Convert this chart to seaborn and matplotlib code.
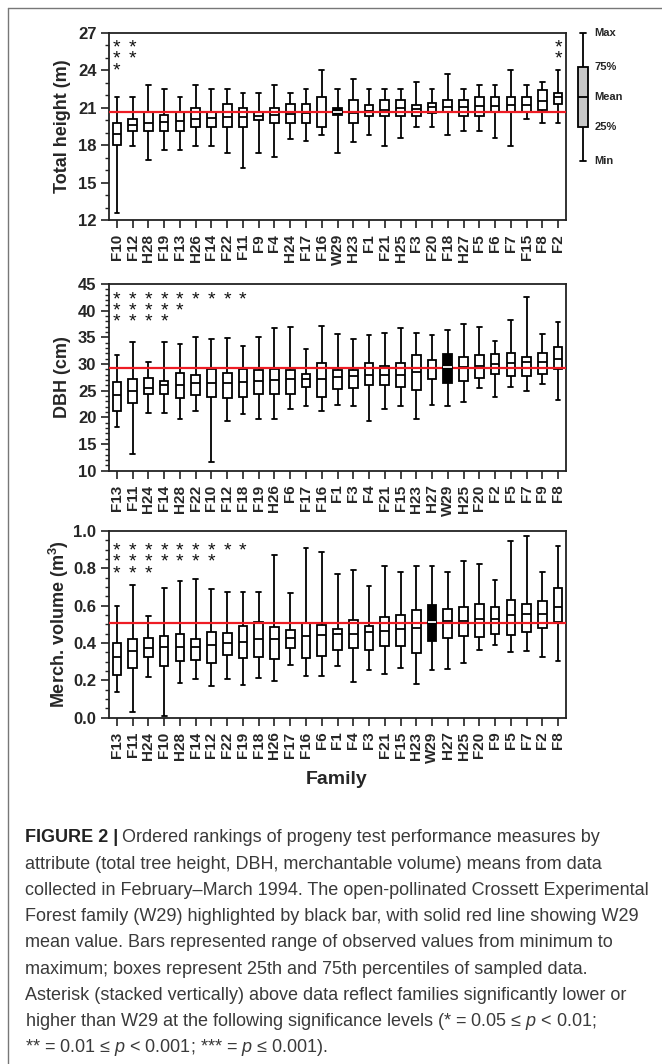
import numpy as np
import pandas as pd
import matplotlib
matplotlib.use("Agg")
import matplotlib.pyplot as plt
import matplotlib.transforms as mtrans
from matplotlib.lines import Line2D
import seaborn as sns

# ---------------- data ----------------
height_fam = ["F10", "F12", "H28", "F19", "F13", "H26", "F14", "F22", "F11", "F9",
              "F4", "H24", "F17", "F16", "W29", "H23", "F1", "F21", "H25", "F3",
              "F20", "F18", "H27", "F5", "F6", "F7", "F15", "F8", "F2"]
height_max = [21.9, 21.9, 22.8, 22.5, 21.9, 22.8, 22.5, 22.5, 22.2, 22.2, 22.8, 22.2, 22.5, 24.0, 22.5,
              23.3, 22.5, 22.5, 22.5, 23.1, 22.5, 23.7, 22.5, 22.8, 22.8, 24.0, 22.8, 23.1, 24.0]
height_q3 = [19.8, 20.1, 20.7, 20.4, 20.7, 21.0, 20.7, 21.3, 21.0, 20.7, 21.0, 21.3, 21.3, 21.9, 20.95,
             21.6, 21.25, 21.6, 21.6, 21.25, 21.4, 21.6, 21.6, 21.85, 21.85, 21.85, 21.85, 22.45, 22.15]
height_med = [18.9, 19.6, 19.8, 19.85, 19.95, 20.1, 20.2, 20.3, 20.3, 20.35, 20.4, 20.5, 20.55, 20.65, 20.65,
              20.6, 20.75, 20.8, 20.95, 20.9, 21.05, 21.1, 21.1, 21.15, 21.15, 21.2, 21.25, 21.55, 21.85]
height_q1 = [18.0, 19.15, 19.15, 19.15, 19.15, 19.45, 19.45, 19.45, 19.45, 20.05, 19.75, 19.75, 19.75, 19.45, 20.4,
             19.75, 20.35, 20.35, 20.35, 20.35, 20.55, 20.7, 20.35, 20.35, 20.7, 20.7, 20.7, 20.8, 21.3]
height_min = [12.55, 17.95, 16.8, 17.65, 17.65, 17.95, 17.95, 17.35, 16.15, 17.35, 17.05, 18.5, 18.3, 18.8, 17.35,
              18.25, 18.85, 17.95, 18.6, 19.5, 19.5, 18.85, 19.15, 19.15, 18.6, 17.95, 20.1, 19.75, 19.75]
height_sig = [3, 2, 0, 0, 0, 0, 0, 0, 0, 0, 0, 0, 0, 0, 0,
              0, 0, 0, 0, 0, 0, 0, 0, 0, 0, 0, 0, 0, 2]

dbh_fam = ["F13", "F11", "H24", "F14", "H28", "F22", "F10", "F12", "F18", "F19",
           "H26", "F6", "F17", "F16", "F1", "F3", "F4", "F21", "F15", "H23",
           "H27", "W29", "H25", "F20", "F2", "F5", "F7", "F9", "F8"]
dbh_max = [31.6, 34.2, 30.4, 34.2, 33.7, 35.1, 34.7, 34.9, 33.4, 35.1, 36.7, 37.0, 32.9, 37.2, 35.7,
           34.7, 35.5, 35.9, 36.7, 35.9, 35.5, 36.4, 37.5, 36.9, 34.4, 38.2, 42.6, 35.7, 37.9]
dbh_q3 = [26.6, 27.1, 27.3, 26.8, 28.4, 27.9, 29.1, 28.4, 29.1, 28.9, 29.1, 28.9, 28.1, 30.1, 28.9,
          28.9, 30.1, 29.6, 30.1, 31.6, 30.8, 31.9, 31.4, 31.6, 31.9, 32.1, 31.3, 32.1, 33.1]
dbh_med = [24.1, 24.9, 25.5, 26.1, 26.1, 26.4, 26.5, 26.5, 26.6, 26.9, 27.0, 27.1, 27.2, 27.2, 27.6,
           27.7, 27.9, 27.9, 28.0, 28.5, 29.2, 29.5, 29.4, 29.6, 30.0, 30.2, 30.3, 30.4, 31.0]
dbh_q1 = [21.2, 22.7, 24.4, 24.4, 23.7, 24.2, 23.9, 23.7, 23.8, 24.4, 24.4, 24.4, 25.7, 23.9, 25.3,
          25.5, 26.0, 26.0, 25.7, 25.2, 27.1, 26.4, 26.8, 27.4, 28.2, 27.7, 27.7, 28.2, 29.0]
dbh_min = [18.1, 13.1, 20.9, 20.9, 19.6, 21.2, 11.7, 19.4, 20.6, 19.6, 19.6, 21.5, 22.2, 21.2, 22.4,
           22.2, 19.4, 21.5, 22.2, 19.6, 22.4, 22.2, 22.9, 25.5, 23.9, 25.7, 25.0, 26.2, 23.2]
dbh_sig = [3, 3, 3, 3, 2, 1, 1, 1, 1, 0, 0, 0, 0, 0, 0,
           0, 0, 0, 0, 0, 0, 0, 0, 0, 0, 0, 0, 0, 0]

vol_fam = ["F13", "F11", "H24", "F10", "H28", "F14", "F12", "F22", "F19", "F18",
           "H26", "F17", "F16", "F6", "F1", "F4", "F3", "F21", "F15", "H23",
           "W29", "H27", "H25", "F20", "F9", "F5", "F7", "F2", "F8"]
vol_max = [0.60, 0.71, 0.545, 0.695, 0.73, 0.745, 0.69, 0.675, 0.675, 0.675, 0.873, 0.67, 0.91, 0.886, 0.771,
           0.791, 0.707, 0.814, 0.782, 0.814, 0.814, 0.782, 0.838, 0.823, 0.738, 0.948, 0.975, 0.782, 0.921]
vol_q3 = [0.40, 0.42, 0.425, 0.435, 0.448, 0.421, 0.457, 0.452, 0.491, 0.513, 0.488, 0.471, 0.507, 0.496, 0.475,
          0.523, 0.491, 0.538, 0.548, 0.577, 0.604, 0.58, 0.591, 0.611, 0.595, 0.629, 0.611, 0.623, 0.696]
vol_med = [0.327, 0.355, 0.375, 0.38, 0.38, 0.38, 0.389, 0.398, 0.405, 0.42, 0.42, 0.429, 0.438, 0.443, 0.446,
           0.448, 0.461, 0.464, 0.473, 0.482, 0.513, 0.52, 0.52, 0.527, 0.527, 0.552, 0.554, 0.555, 0.593]
vol_q1 = [0.227, 0.266, 0.327, 0.275, 0.302, 0.309, 0.291, 0.334, 0.32, 0.327, 0.314, 0.373, 0.32, 0.33, 0.361,
          0.371, 0.361, 0.384, 0.384, 0.348, 0.411, 0.425, 0.436, 0.432, 0.45, 0.441, 0.457, 0.48, 0.513]
vol_min = [0.139, 0.032, 0.22, 0.009, 0.184, 0.205, 0.17, 0.205, 0.177, 0.213, 0.195, 0.28, 0.223, 0.225, 0.277,
           0.189, 0.255, 0.234, 0.268, 0.18, 0.254, 0.263, 0.295, 0.364, 0.391, 0.354, 0.359, 0.325, 0.302]
vol_sig = [3, 3, 3, 2, 2, 2, 2, 1, 1, 0, 0, 0, 0, 0, 0,
           0, 0, 0, 0, 0, 0, 0, 0, 0, 0, 0, 0, 0, 0]

w29_mean = [20.64, 29.31, 0.509]   # height, DBH, volume
highlight = "W29"

key_labels = ["Min", "25%", "Mean", "75%", "Max"]
key_values = [0, 34, 64, 94, 128]

caption_head = "FIGURE 2 |"
caption_lines = [
    "Ordered rankings of progeny test performance measures by",
    "attribute (total tree height, DBH, merchantable volume) means from data",
    "collected in February\u2013March 1994. The open-pollinated Crossett Experimental",
    "Forest family (W29) highlighted by black bar, with solid red line showing W29",
    "mean value. Bars represented range of observed values from minimum to",
    "maximum; boxes represent 25th and 75th percentiles of sampled data.",
    "Asterisk (stacked vertically) above data reflect families significantly lower or",
    "higher than W29 at the following significance levels (* = 0.05 \u2264 $p$ < 0.01;",
    "** = 0.01 \u2264 $p$ < 0.001; *** = $p$ \u2264 0.001).",
]

# ---------------- style ----------------
sns.set_style("ticks")
plt.rcParams["font.family"] = ["Liberation Sans", "DejaVu Sans"]
plt.rcParams["mathtext.fontset"] = "custom"
plt.rcParams["mathtext.rm"] = "Liberation Sans"
plt.rcParams["mathtext.it"] = "Liberation Sans:italic"
plt.rcParams["mathtext.bf"] = "Liberation Sans:bold"

W, H = 662, 1064
fig = plt.figure(figsize=(W / 100, H / 100), dpi=100)
fig.patch.set_facecolor("white")


def px_axes(left, top, right, bottom):
    return fig.add_axes([left / W, 1 - bottom / H, (right - left) / W, (bottom - top) / H])


def long_df(fam, mn, q1, md, q3, mx):
    rows = []
    for f, a, b, c, d, e in zip(fam, mn, q1, md, q3, mx):
        for v in (a, b, c, d, e):
            rows.append((f, v))
    return pd.DataFrame(rows, columns=["family", "value"])


LW = 1.3
SPINE = "#222222"


def panel(ax, fam, mn, q1, md, q3, mx, sig, ref, ylim, major, minor, ylabel, star_top):
    df = long_df(fam, mn, q1, md, q3, mx)
    common = dict(x="family", y="value", order=fam, whis=(0, 100), width=0.55,
                  linewidth=LW, linecolor="black", saturation=1, ax=ax, capwidths=0.3)
    sns.boxplot(data=df[df.family != highlight], color="white",
                medianprops=dict(color="black", linewidth=LW), zorder=2, **common)
    ax.axhline(ref, color="#ee1c24", lw=1.6, zorder=3)
    sns.boxplot(data=df[df.family == highlight], color="black",
                medianprops=dict(color="white", linewidth=LW), zorder=4, **common)
    ax.set_xlim(-0.5, len(fam) - 0.5)
    ax.set_ylim(*ylim)
    ax.set_yticks(np.arange(ylim[0], ylim[1] + 1e-9, major))
    ax.set_yticks(np.arange(ylim[0], ylim[1] + 1e-9, minor), minor=True)
    ax.set_xticks(range(len(fam)))
    ax.set_xticklabels(fam, rotation=90, fontweight="bold", fontsize=11)
    for lab in ax.get_yticklabels():
        lab.set_fontweight("bold")
        lab.set_fontsize(12)
    if major < 1:
        ax.yaxis.set_major_formatter(matplotlib.ticker.FormatStrFormatter("%.1f"))
    else:
        ax.yaxis.set_major_formatter(matplotlib.ticker.FormatStrFormatter("%d"))
    ax.tick_params(axis="x", length=6, width=1.2, pad=4, color=SPINE)
    ax.tick_params(axis="y", which="major", length=6, width=1.2, pad=3, color=SPINE)
    ax.tick_params(axis="y", which="minor", length=3, width=1.0, color=SPINE)
    ax.set_xlabel("")
    ax.set_ylabel(ylabel, fontweight="bold", fontsize=13)
    ax.yaxis.set_label_coords(-0.083, 0.5)
    for s in ax.spines.values():
        s.set_visible(True)
        s.set_color(SPINE)
        s.set_linewidth(1.3)
    tr = mtrans.blended_transform_factory(ax.transData, ax.transAxes)
    for i, n in enumerate(sig):
        if n > 0:
            ax.text(i, star_top, "\n".join(["*"] * n), transform=tr, ha="center", va="top",
                    fontsize=14, linespacing=0.57, color="#111111")


ax1 = px_axes(109, 33, 566, 220)
panel(ax1, height_fam, height_min, height_q1, height_med, height_q3, height_max, height_sig,
      w29_mean[0], (12, 27), 3, 1, "Total height (m)", 0.966)

ax2 = px_axes(109, 284, 566, 470.7)
panel(ax2, dbh_fam, dbh_min, dbh_q1, dbh_med, dbh_q3, dbh_max, dbh_sig,
      w29_mean[1], (10, 45), 5, 1, "DBH (cm)", 0.962)

ax3 = px_axes(109, 531, 566, 717.7)
panel(ax3, vol_fam, vol_min, vol_q1, vol_med, vol_q3, vol_max, vol_sig,
      w29_mean[2], (0, 1.0), 0.2, 0.05, "Merch. volume (m$^{\\mathbf{3}}$)", 0.940)

fig.text(337 / W, 1 - 780 / H, "Family", ha="center", va="center", fontweight="bold", fontsize=14)

# ---------------- key ----------------
axk = px_axes(570, 28, 596, 166)
kdf = pd.DataFrame({"k": ["key"] * len(key_values), "value": key_values})
sns.boxplot(data=kdf, x="k", y="value", whis=(0, 100), width=0.385, color="#c8c8c8",
            saturation=1, linewidth=1.3, linecolor="black", capwidths=0.2,
            medianprops=dict(color="black", linewidth=1.3), ax=axk)
axk.set_ylim(key_values[0] - 5, key_values[-1] + 5)
axk.set_xlim(-0.5, 0.5)
axk.axis("off")
ktr = mtrans.blended_transform_factory(axk.transAxes, axk.transData)
for lab, v in zip(key_labels, key_values):
    axk.text(0.93, v, lab, transform=ktr, ha="left", va="center", fontsize=8, fontweight="bold")

# ---------------- caption ----------------
CAP = "#3a3a3a"
CFS = 13
y0, dy = 838, 26.2
renderer = fig.canvas.get_renderer()
t0 = fig.text(25 / W, 1 - y0 / H, caption_head, fontweight="bold", fontsize=CFS, va="center", color="#222222")
bb = t0.get_window_extent(renderer=renderer)
fig.text((bb.x1 + 4) / W, 1 - y0 / H, caption_lines[0], fontsize=CFS, va="center", color=CAP)
for i, line in enumerate(caption_lines[1:], start=1):
    fig.text(25 / W, 1 - (y0 + i * dy) / H, line, fontsize=CFS, va="center", color=CAP)

# ---------------- frame ----------------
fig.add_artist(Line2D([7.5 / W, 7.5 / W], [0, 1 - 8 / H], transform=fig.transFigure, color="#777777", lw=1.0))
fig.add_artist(Line2D([7.5 / W, 1], [1 - 8 / H, 1 - 8 / H], transform=fig.transFigure, color="#777777", lw=1.0))

fig.savefig("out.png", dpi=100, facecolor="white")
